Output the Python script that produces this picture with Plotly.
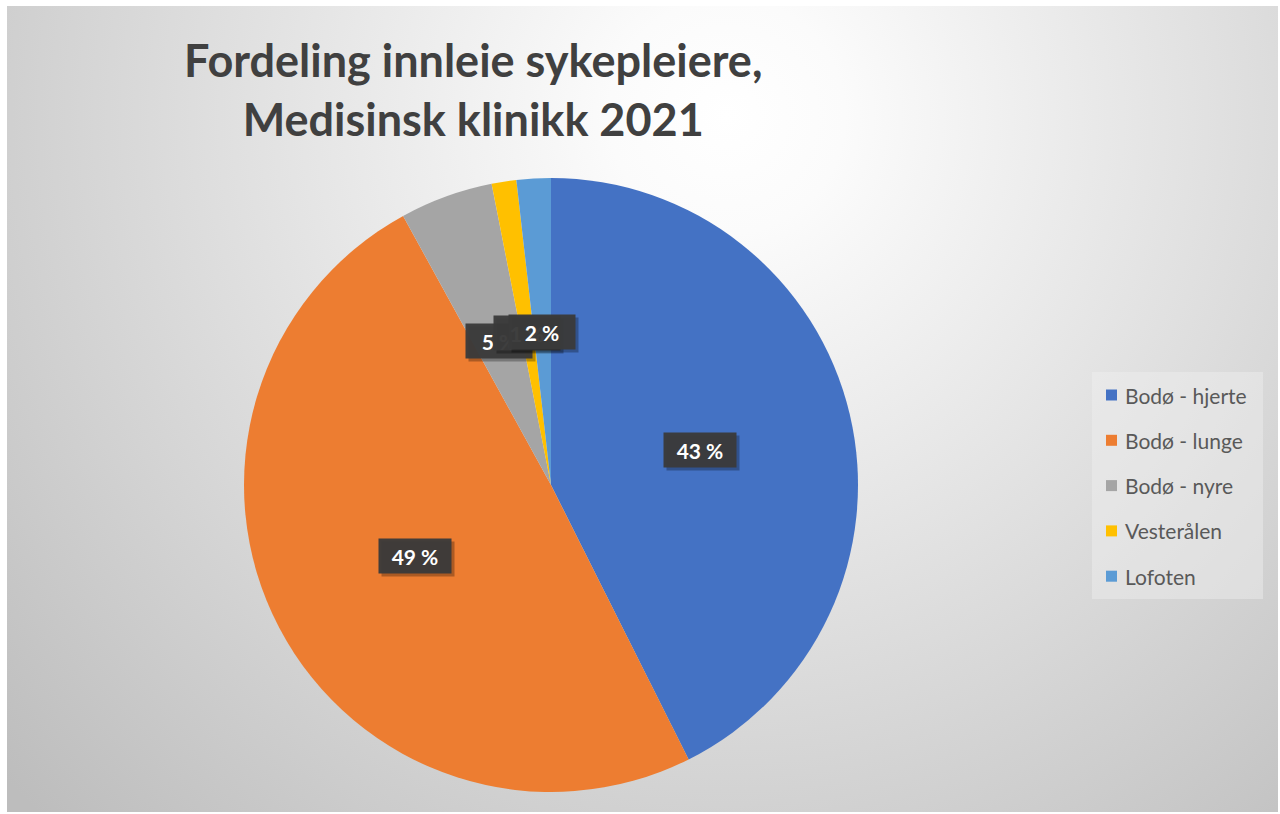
import base64
import math

import plotly.graph_objects as go

# Shares of hired nurses per unit (percent)
categories = ["Bodø - hjerte", "Bodø - lunge", "Bodø - nyre", "Vesterålen", "Lofoten"]
shares = [42.6, 49.4, 4.9, 1.3, 1.8]
colors = ["#4472C4", "#ED7D31", "#A5A5A5", "#FFC000", "#5B9BD5"]
title_lines = ["Fordeling innleie sykepleiere,", "Medisinsk klinikk 2021"]

W, H = 1280, 814
CX, CY, R = 551, 485, 307          # pie centre and radius in pixels


def px(x):
    return x / W


def py(y):
    return 1 - y / H


fig = go.Figure(
    go.Pie(
        labels=categories,
        values=shares,
        marker=dict(colors=colors, line=dict(width=0)),
        sort=False,
        direction="clockwise",
        rotation=0,
        textinfo="none",
        hoverinfo="label+percent",
        showlegend=False,
        domain=dict(x=[px(CX - R), px(CX + R)], y=[py(CY + R), py(CY - R)]),
    )
)

# Radial grey backdrop for the chart area
svg = (
    '<svg xmlns="http://www.w3.org/2000/svg" width="1271" height="806">'
    '<defs><radialGradient id="g" gradientUnits="userSpaceOnUse" cx="720" cy="110" r="980">'
    '<stop offset="0" stop-color="#ffffff"/>'
    '<stop offset="0.12" stop-color="#fbfbfb"/>'
    '<stop offset="1" stop-color="#bdbdbd"/>'
    '</radialGradient></defs>'
    '<rect width="1271" height="806" fill="url(#g)"/></svg>'
)
bg_src = "data:image/svg+xml;base64," + base64.b64encode(svg.encode()).decode()
fig.add_layout_image(
    source=bg_src, xref="paper", yref="paper",
    x=px(7), y=py(6), sizex=px(1278) - px(7), sizey=py(6) - py(812),
    xanchor="left", yanchor="top", sizing="stretch", layer="below",
)

annotations = []

# Chart title
annotations.append(dict(
    x=px(473), y=py(90), xref="paper", yref="paper",
    text="<b>" + "<br>".join(title_lines) + "</b>",
    showarrow=False, xanchor="center", yanchor="middle", align="center",
    font=dict(family="Lato", size=45, color="#404040"),
))

# Data labels: dark boxes at half radius along each slice's mid-angle
total = sum(shares)
cum = 0.0
for v in shares:
    mid = (cum + v / 2) / total * 2 * math.pi
    cum += v
    lx = CX + 0.5 * R * math.sin(mid)
    ly = CY - 0.5 * R * math.cos(mid)
    txt = f"{round(v / total * 100)} %"
    bw = 70 if len(txt) > 3 else 64
    # drop shadow
    annotations.append(dict(
        x=px(lx + 3), y=py(ly + 3), xref="paper", yref="paper", text="",
        showarrow=False, width=bw, height=32, bgcolor="rgba(0,0,0,0.28)",
        xanchor="center", yanchor="middle",
    ))
    annotations.append(dict(
        x=px(lx), y=py(ly), xref="paper", yref="paper",
        text=f"<b>{txt}</b>", showarrow=False, width=bw, height=32,
        bgcolor="rgba(58,58,58,0.96)", xanchor="center", yanchor="middle",
        font=dict(family="Lato", size=21, color="#ffffff"),
    ))

# Legend built from the category and colour lists
shapes = [dict(
    type="rect", xref="paper", yref="paper",
    x0=px(1092), x1=px(1263), y0=py(599), y1=py(372),
    fillcolor="rgba(240,240,240,0.45)", line=dict(width=0), layer="above",
)]
for i, (name, col) in enumerate(zip(categories, colors)):
    yc = 395 + i * 45.3
    shapes.append(dict(
        type="rect", xref="paper", yref="paper",
        x0=px(1106), x1=px(1117), y0=py(yc + 5.5), y1=py(yc - 5.5),
        fillcolor=col, line=dict(width=0), layer="above",
    ))
    annotations.append(dict(
        x=px(1123), y=py(yc), xref="paper", yref="paper", text=name,
        showarrow=False, xanchor="left", yanchor="middle",
        font=dict(family="Lato", size=21, color="#595959"),
    ))

fig.update_layout(
    width=W, height=H,
    margin=dict(l=0, r=0, t=0, b=0),
    paper_bgcolor="#ffffff",
    annotations=annotations,
    shapes=shapes,
)

fig.write_html("out.html")
